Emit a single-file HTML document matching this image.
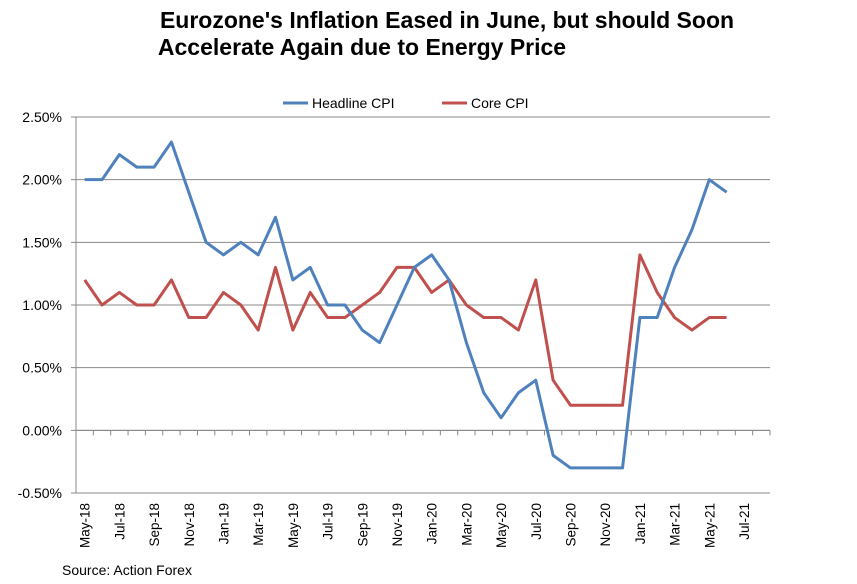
<!DOCTYPE html>
<html><head><meta charset="utf-8"><style>
body{margin:0;background:#fff;font-family:"Liberation Sans",Arial,sans-serif}
svg text{font-family:"Liberation Sans",Arial,sans-serif}
</style></head><body>
<svg id="c" width="857" height="579" xmlns="http://www.w3.org/2000/svg">
<text x="447" y="28" text-anchor="middle" font-size="23" font-weight="bold">Eurozone's Inflation Eased in June, but should Soon</text>
<text x="362" y="55" text-anchor="middle" font-size="23" font-weight="bold">Accelerate Again due to Energy Price</text>
<g>
<line x1="283" y1="103" x2="308" y2="103" stroke="#4f81bd" stroke-width="3"/>
<text x="312" y="108" font-size="14">Headline CPI</text>
<line x1="442" y1="103" x2="467" y2="103" stroke="#c0504d" stroke-width="3"/>
<text x="471" y="108" font-size="14">Core CPI</text>
</g>
<g id="grid"></g><g id="axes"></g><g id="series"></g>
<text x="62" y="575" font-size="14">Source: Action Forex</text>
</svg>
<script>
const months=["May-18","Jun-18","Jul-18","Aug-18","Sep-18","Oct-18","Nov-18","Dec-18","Jan-19","Feb-19","Mar-19","Apr-19","May-19","Jun-19","Jul-19","Aug-19","Sep-19","Oct-19","Nov-19","Dec-19","Jan-20","Feb-20","Mar-20","Apr-20","May-20","Jun-20","Jul-20","Aug-20","Sep-20","Oct-20","Nov-20","Dec-20","Jan-21","Feb-21","Mar-21","Apr-21","May-21","Jun-21","Jul-21","Aug-21"];
const headline=[2.0,2.0,2.2,2.1,2.1,2.3,1.9,1.5,1.4,1.5,1.4,1.7,1.2,1.3,1.0,1.0,0.8,0.7,1.0,1.3,1.4,1.2,0.7,0.3,0.1,0.3,0.4,-0.2,-0.3,-0.3,-0.3,-0.3,0.9,0.9,1.3,1.6,2.0,1.9];
const core=[1.2,1.0,1.1,1.0,1.0,1.2,0.9,0.9,1.1,1.0,0.8,1.3,0.8,1.1,0.9,0.9,1.0,1.1,1.3,1.3,1.1,1.2,1.0,0.9,0.9,0.8,1.2,0.4,0.2,0.2,0.2,0.2,1.4,1.1,0.9,0.8,0.9,0.9];
const yTicks=[2.5,2.0,1.5,1.0,0.5,0.0,-0.5];
const NS="http://www.w3.org/2000/svg";
const L=76,R=770,T=117,B=493,yMin=-0.5,yMax=2.5;
const slot=(R-L)/months.length;
const x=i=>L+slot*(i+0.5);
const y=v=>B-(v-yMin)/(yMax-yMin)*(B-T);
function mk(tag,attrs,parent){const e=document.createElementNS(NS,tag);for(const k in attrs)e.setAttribute(k,attrs[k]);parent.appendChild(e);return e;}
const grid=document.getElementById('grid'),axes=document.getElementById('axes'),ser=document.getElementById('series');
yTicks.forEach(v=>{
 const g=mk('line',{x1:L-5,x2:R,y1:y(v),y2:y(v),stroke:'#888','stroke-width':1},grid);
 
 
 const t=mk('text',{x:L-14,y:y(v)+5,'text-anchor':'end','font-size':14},axes);
 t.textContent=v.toFixed(2)+'%';
 
 
});
const ax=mk('line',{x1:L,x2:L,y1:T,y2:B,stroke:'#888'},axes);


const x0=mk('line',{x1:L,x2:R,y1:y(0),y2:y(0),stroke:'#888'},axes);


for(let i=0;i<=months.length;i++){
 const tk=mk('line',{x1:L+slot*i,x2:L+slot*i,y1:y(0),y2:y(0)+5,stroke:'#888'},axes);
 
 
}
months.forEach((m,i)=>{
 if(i%2)return;
 const t=mk('text',{x:0,y:0,'text-anchor':'end','font-size':13.5,transform:`translate(${x(i)+5},${B+10}) rotate(-90)`},axes);
 t.textContent=m;
 
 
});
function line(data,color,name){
 const p=mk('polyline',{points:data.map((v,i)=>x(i)+','+y(v)).join(' '),fill:'none',stroke:color,'stroke-width':3,'stroke-linejoin':'round'},ser);
 
 
}
line(core,'#c0504d','core-cpi-line');
line(headline,'#4f81bd','headline-cpi-line');
</script>
</body></html>
